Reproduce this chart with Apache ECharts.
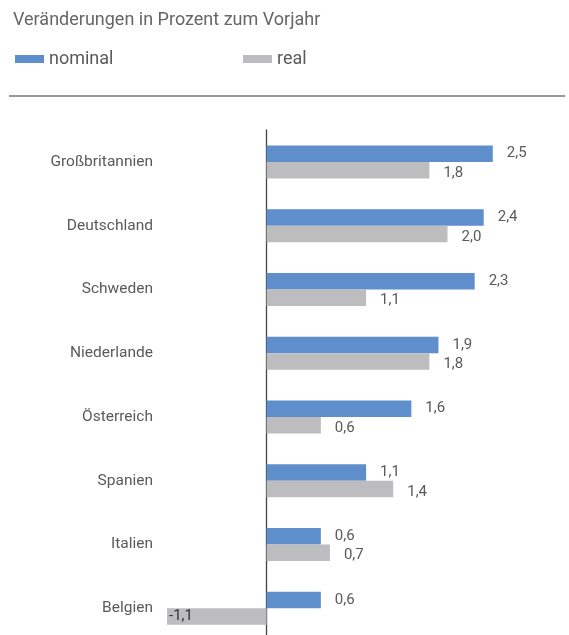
<!DOCTYPE html>
<html>
<head>
<meta charset="utf-8">
<script src="https://cdn.jsdelivr.net/npm/echarts@6/dist/echarts.min.js"></script>
<style>
  html, body { margin: 0; padding: 0; background: #fff; }
  #chart { width: 569px; height: 635px; }
</style>
</head>
<body>
<div id="chart"></div>
<script>
const countries = ['Großbritannien', 'Deutschland', 'Schweden', 'Niederlande', 'Österreich', 'Spanien', 'Italien', 'Belgien'];
const nominal = [2.5, 2.4, 2.3, 1.9, 1.6, 1.1, 0.6, 0.6];
const real = [1.8, 2.0, 1.1, 1.8, 0.6, 1.4, 0.7, -1.1];

const textColor = '#5a5a5a';
const fmt = v => v.toFixed(1).replace('.', ',');

const chart = echarts.init(document.getElementById('chart'));

const option = {
  animation: false,
  textStyle: { fontFamily: 'Roboto, "Liberation Sans", sans-serif' },
  title: {
    text: 'Veränderungen in Prozent zum Vorjahr',
    left: 8,
    top: 6,
    textStyle: { fontSize: 18, fontWeight: 'normal', color: '#666' }
  },
  legend: [
    {
      data: ['nominal'],
      left: 10,
      top: 45,
      itemWidth: 29,
      itemHeight: 8,
      icon: 'rect',
      textStyle: { fontSize: 18, color: textColor }
    },
    {
      data: ['real'],
      left: 238,
      top: 45,
      itemWidth: 29,
      itemHeight: 8,
      icon: 'rect',
      textStyle: { fontSize: 18, color: textColor }
    }
  ],
  graphic: [
    {
      type: 'line',
      shape: { x1: 9, y1: 96, x2: 565, y2: 96 },
      style: { stroke: '#777', lineWidth: 1.3 }
    }
  ],
  grid: {
    left: 158,
    right: 31,
    top: 130,
    bottom: -5,
    containLabel: false,
    outerBoundsMode: 'none'
  },
  xAxis: {
    type: 'value',
    min: -1.2,
    max: 3,
    show: false
  },
  yAxis: {
    type: 'category',
    data: countries,
    inverse: true,
    axisLine: { onZero: true, lineStyle: { color: '#444', width: 1.3 } },
    axisTick: { show: false },
    axisLabel: {
      margin: 5,
      fontSize: 15.5,
      color: textColor
    }
  },
  series: [
    {
      name: 'nominal',
      type: 'bar',
      data: nominal,
      barWidth: 16.5,
      barGap: '0%',
      itemStyle: { color: '#5e8fcc' },
      label: {
        show: true,
        position: 'right',
        distance: 14,
        offset: [0, 0],
        fontSize: 15,
        color: textColor,
        formatter: p => fmt(p.value)
      }
    },
    {
      name: 'real',
      type: 'bar',
      data: real.map(v => v < 0
        ? { value: v, label: { position: 'insideLeft', distance: 2, offset: [0, 0], color: '#333' } }
        : v),
      barWidth: 16.5,
      itemStyle: { color: '#bdbdc0' },
      label: {
        show: true,
        position: 'right',
        distance: 14,
        offset: [0, 3],
        fontSize: 15,
        color: textColor,
        formatter: p => fmt(p.value)
      }
    }
  ]
};

chart.setOption(option);
</script>
</body>
</html>
